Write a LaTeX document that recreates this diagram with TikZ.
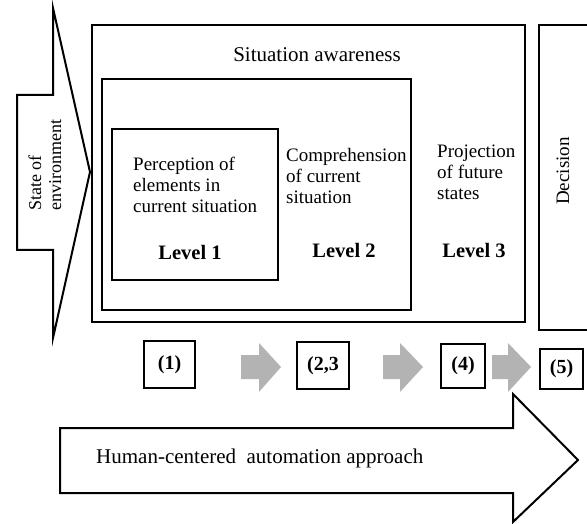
\documentclass[tikz,border=0pt]{standalone}
\usepackage{fontspec}
\setmainfont{Liberation Serif}
\definecolor{arrowgray}{HTML}{B3B3B3}
\begin{document}
\begin{tikzpicture}[x=1pt,y=-1pt,
  box/.style={draw=black, line width=1.6pt, inner sep=0pt, fill=none},
  bigbox/.style={draw=black, line width=2pt, inner sep=0pt},
  txt/.style={inner sep=0pt, align=left, anchor=base west, font=\fontsize{19}{21}\selectfont},
  lvl/.style={inner sep=0pt, anchor=base, font=\fontsize{20.5}{22}\selectfont\bfseries},
  num/.style={draw=black, line width=1.6pt, inner sep=0pt, font=\fontsize{20}{22}\selectfont\bfseries},
  grayarrow/.style={fill=arrowgray, draw=none},
  outline/.style={draw=black, line width=2pt, fill=white, line join=miter}
]
\useasboundingbox (0,0) rectangle (587,524);
\clip (0,0) rectangle (587,524);

% state of environment arrow
\draw[outline] (17,95) -- (53,95) -- (53,8) -- (90,172) -- (53,338) -- (53,250) -- (17,250) -- cycle;
\node[rotate=90, anchor=west, align=left, inner sep=0pt, font=\fontsize{18}{20}\selectfont] (env) at (45,211) {State of\\environment};

% situation awareness boxes
\node[bigbox, minimum width=433pt, minimum height=297pt] (sa) at (308.5,173.5) {};
\node[box, minimum width=309pt, minimum height=231pt] (l2box) at (256.5,194.5) {};
\node[box, minimum width=166pt, minimum height=151pt] (l1box) at (195,204.5) {};
\node[inner sep=0pt, anchor=base, font=\fontsize{21}{23}\selectfont] (title) at (317,62) {Situation awareness};

% (anchor base = baseline of the last line)
\node[txt] (perc) at (133,212.5) {Perception of\\elements in\\current situation};
\node[lvl] (lev1) at (190,259) {Level 1};
\node[txt] (comp) at (286,204) {Comprehension\\of current\\situation};
\node[lvl] (lev2) at (344,258) {Level 2};
\node[txt] (proj) at (437,199.5) {Projection\\of future\\states};
\node[lvl] (lev3) at (474,258) {Level 3};

% decision box
\draw[bigbox] (600,25) -- (539,25) -- (539,330) -- (600,330);
\node[rotate=90, inner sep=0pt, font=\fontsize{19}{21}\selectfont] (dec) at (563,171) {Decision};

% numbered boxes
\node[num, minimum width=51pt, minimum height=47pt] (n1) at (169.5,364.5) {(1)};
\node[num, minimum width=52pt, minimum height=47pt] (n23) at (323,365.5) {\raisebox{-5pt}{(2,3}};
\node[num, minimum width=44pt, minimum height=44pt] (n4) at (463,366) {(4)};
\node[num, minimum width=43pt, minimum height=40pt] (n5) at (561.5,369) {\raisebox{-3pt}{(5)}};

% gray arrows
\fill[grayarrow] (241,355) -- (259,355) -- (259,343) -- (281,367) -- (259,392) -- (259,379) -- (241,379) -- cycle;
\fill[grayarrow] (383,355) -- (400,355) -- (400,343) -- (423,367) -- (400,392) -- (400,379) -- (383,379) -- cycle;
\fill[grayarrow] (492,355) -- (508,355) -- (508,343) -- (531,367) -- (508,392) -- (508,379) -- (492,379) -- cycle;

% human-centered automation arrow
\draw[outline] (60,428) -- (513,428) -- (513,394) -- (578,460) -- (513,522) -- (513,493) -- (60,493) -- cycle;
\node[inner sep=0pt, anchor=base west, font=\fontsize{21}{23}\selectfont] (hca) at (96,463) {Human-centered\ \ automation approach};
\end{tikzpicture}
\end{document}
